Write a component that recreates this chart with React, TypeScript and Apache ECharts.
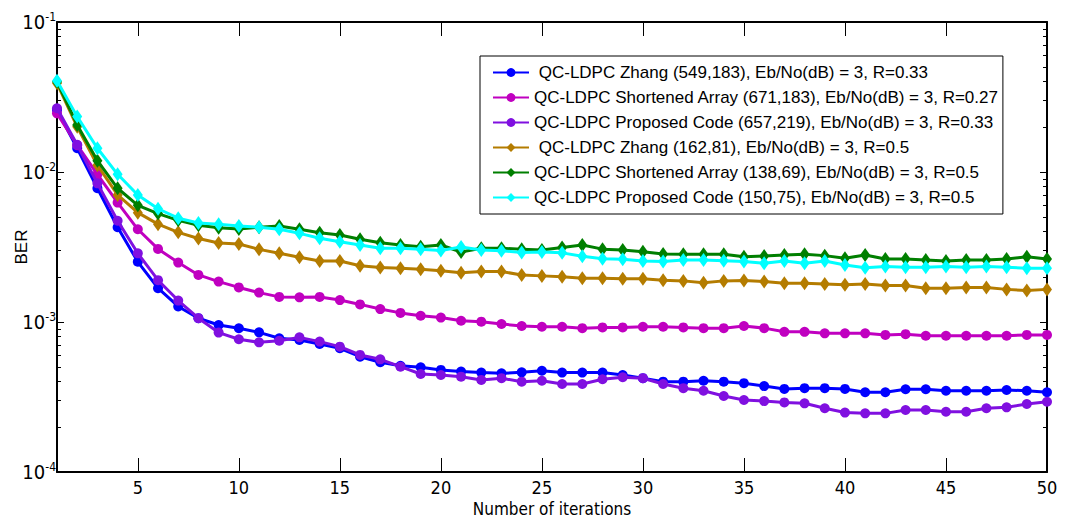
import { useEffect, useRef } from 'react';
import * as echarts from 'echarts';

const iterations = [
  1, 2, 3, 4, 5, 6, 7, 8, 9, 10, 11, 12, 13, 14, 15, 16, 17, 18, 19, 20, 21, 22, 23, 24, 25,
  26, 27, 28, 29, 30, 31, 32, 33, 34, 35, 36, 37, 38, 39, 40, 41, 42, 43, 44, 45, 46, 47, 48, 49, 50,
];

const seriesNames = [
  ' QC-LDPC Zhang (549,183), Eb/No(dB) = 3, R=0.33',
  'QC-LDPC Shortened Array (671,183), Eb/No(dB) = 3, R=0.27',
  'QC-LDPC Proposed Code (657,219), Eb/No(dB) = 3, R=0.33',
  ' QC-LDPC Zhang (162,81), Eb/No(dB) = 3, R=0.5',
  'QC-LDPC Shortened Array (138,69), Eb/No(dB) = 3, R=0.5',
  'QC-LDPC Proposed Code (150,75), Eb/No(dB) = 3, R=0.5',
];

const zhang549 = [
  0.0259, 0.0144, 0.00779, 0.00428, 0.00252, 0.00168, 0.00127, 0.00106, 0.000955, 0.000909,
  0.000853, 0.000779, 0.000759, 0.000713, 0.000668, 0.000587, 0.000539, 0.000511, 0.000499, 0.000479,
  0.000467, 0.00046, 0.000455, 0.000462, 0.000473, 0.00046, 0.00046, 0.00046, 0.000443, 0.000422,
  0.0004, 0.0004, 0.000406, 0.0004, 0.000391, 0.000374, 0.000358, 0.000362, 0.000362, 0.000358,
  0.00034, 0.00034, 0.000356, 0.000356, 0.000348, 0.000348, 0.000348, 0.000352, 0.000348, 0.00034,
];
const shortened671 = [
  0.0246, 0.0151, 0.00965, 0.00625, 0.00415, 0.00307, 0.00249, 0.00206, 0.00186, 0.0017,
  0.00157, 0.00147, 0.00146, 0.00147, 0.0014, 0.00131, 0.00122, 0.00115, 0.0011, 0.00107,
  0.00102, 0.001005, 0.00097, 0.00094, 0.00093, 0.00093, 0.00091, 0.00092, 0.00092, 0.00093,
  0.00093, 0.00092, 0.00091, 0.00091, 0.00094, 0.00091, 0.00086, 0.00086, 0.00084, 0.00084,
  0.00084, 0.00082, 0.00083, 0.00081, 0.00081, 0.00081, 0.00081, 0.00081, 0.00082, 0.00082,
];
const proposed657 = [
  0.0266, 0.0152, 0.0084, 0.00473, 0.00287, 0.0019, 0.00139, 0.00106, 0.00085, 0.000767,
  0.000732, 0.00075, 0.00079, 0.00074, 0.000685, 0.000603, 0.000564, 0.000504, 0.00045, 0.000443,
  0.000432, 0.000411, 0.000422, 0.0004, 0.000406, 0.000386, 0.000386, 0.000415, 0.000428, 0.000422,
  0.000386, 0.000362, 0.000348, 0.000321, 0.000302, 0.000297, 0.000291, 0.000287, 0.000266, 0.000249,
  0.000246, 0.000246, 0.000259, 0.000259, 0.000252, 0.000252, 0.000266, 0.00027, 0.000284, 0.000294,
];
const zhang162 = [
  0.039, 0.02, 0.0111, 0.00703, 0.00536, 0.00449, 0.00396, 0.0036, 0.00336, 0.00331,
  0.00305, 0.00287, 0.0027, 0.00255, 0.00255, 0.00237, 0.00231, 0.00228, 0.00225, 0.0022,
  0.00213, 0.00217, 0.00217, 0.00206, 0.00203, 0.002, 0.00196, 0.00196, 0.00194, 0.00194,
  0.0019, 0.00188, 0.00183, 0.00188, 0.00189, 0.00186, 0.00181, 0.00181, 0.00179, 0.00177,
  0.00179, 0.00175, 0.00175, 0.00168, 0.00168, 0.0017, 0.0017, 0.00165, 0.00162, 0.00165,
];
const shortened138 = [
  0.04, 0.0206, 0.0119, 0.00779, 0.006, 0.00528, 0.00476, 0.00441, 0.00425, 0.00417,
  0.00428, 0.00436, 0.00415, 0.00394, 0.0038, 0.00356, 0.00338, 0.00326, 0.00318, 0.00326,
  0.00293, 0.0031, 0.0031, 0.00306, 0.00302, 0.00314, 0.00326, 0.00306, 0.00302, 0.00294,
  0.00284, 0.00283, 0.00283, 0.00283, 0.00272, 0.00275, 0.0028, 0.00283, 0.00277, 0.00266,
  0.0028, 0.00263, 0.00263, 0.00259, 0.00255, 0.00259, 0.00259, 0.00263, 0.00272, 0.00263,
];
const proposed150 = [
  0.0406, 0.0234, 0.0144, 0.00965, 0.00703, 0.00569, 0.00492, 0.00457, 0.00449, 0.00436,
  0.00428, 0.00415, 0.0039, 0.00362, 0.00343, 0.00326, 0.0031, 0.0031, 0.00306, 0.003,
  0.00316, 0.00302, 0.00299, 0.00291, 0.00293, 0.00289, 0.00274, 0.00264, 0.00262, 0.00255,
  0.00253, 0.00259, 0.00259, 0.00256, 0.00253, 0.00246, 0.00255, 0.00246, 0.00255, 0.0024,
  0.0023, 0.00234, 0.00232, 0.00232, 0.00234, 0.00232, 0.00234, 0.00232, 0.00228, 0.00228,
];

const xTickValues = [5, 10, 15, 20, 25, 30, 35, 40, 45, 50];
const seriesColors = ['#0000FF', '#C000C0', '#8010E0', '#B47C00', '#007F00', '#00FFFF'];
const seriesSymbols = ['circle', 'circle', 'circle', 'diamond', 'diamond', 'diamond'];
const allSeries = [zhang549, shortened671, proposed657, zhang162, shortened138, proposed150];

const minorTickExps: number[] = [];
for (let d = -4; d <= -2; d++) {
  for (let k = 2; k <= 9; k++) minorTickExps.push(Math.log10(k * Math.pow(10, d)));
}

const FONT = '"Liberation Sans", Arial, sans-serif';
const NARROW = '"Liberation Sans Narrow", "DejaVu Sans Condensed", "Liberation Sans", sans-serif';

export default function App() {
  const ref = useRef<HTMLDivElement>(null);
  useEffect(() => {
    if (!ref.current) return;
    const chart = echarts.init(ref.current, null, { renderer: 'svg' });
    const axisLine = { show: true, lineStyle: { color: '#000', width: 2 } };
    const series = allSeries.map((vals, idx) => ({
      type: 'line',
      name: seriesNames[idx],
      data: iterations.map((it, j) => [it, vals[j]]),
      xAxisIndex: 0,
      yAxisIndex: 0,
      symbol: seriesSymbols[idx],
      symbolSize: seriesSymbols[idx] === 'circle' ? 10 : [10, 14],
      showAllSymbol: true,
      lineStyle: { color: seriesColors[idx], width: 3 },
      itemStyle: { color: seriesColors[idx] },
      emphasis: { disabled: true },
      z: 2 + idx,
    }));
    chart.setOption({
      animation: false,
      backgroundColor: '#fff',
      grid: { left: 57, right: 20, top: 22, bottom: 53, containLabel: false, outerBoundsMode: 'none' },
      legend: {
        orient: 'vertical',
        left: 480,
        top: 56,
        backgroundColor: '#fff',
        borderColor: '#000',
        borderWidth: 1,
        padding: [8, 4, 8, 12],
        itemWidth: 36,
        itemHeight: 11,
        itemGap: 8,
        textStyle: { fontFamily: FONT, fontSize: 17, color: '#000' },
        data: seriesNames,
      },
      xAxis: [
        {
          type: 'value',
          min: 1,
          max: 50,
          position: 'bottom',
          name: 'Number of iterations',
          nameLocation: 'middle',
          nameGap: 28,
          nameMoveOverlap: false,
          nameTextStyle: { fontFamily: NARROW, fontSize: 17, color: '#000' },
          axisLine,
          axisTick: { show: true, inside: true, length: 14, customValues: xTickValues, lineStyle: { color: '#000' } },
          axisLabel: {
            customValues: xTickValues,
            margin: 6,
            fontFamily: NARROW,
            fontSize: 18,
            color: '#000',
          },
          splitLine: { show: false },
        },
        {
          type: 'value',
          min: 1,
          max: 50,
          position: 'top',
          axisLine,
          axisTick: { show: true, inside: true, length: 14, customValues: xTickValues, lineStyle: { color: '#000' } },
          axisLabel: { show: false },
          splitLine: { show: false },
        },
      ],
      yAxis: [
        {
          type: 'log',
          logBase: 10,
          min: 1e-4,
          max: 1e-1,
          position: 'left',
          name: 'BER',
          nameLocation: 'middle',
          nameGap: 27,
          nameMoveOverlap: false,
          nameTextStyle: { fontFamily: FONT, fontSize: 17, color: '#000' },
          axisLine,
          axisTick: { show: true, inside: true, length: 7, lineStyle: { color: '#000' } },
          axisLabel: {
            margin: 1,
            showMinLabel: true,
            showMaxLabel: true,
            formatter: (v: number) => `{b|10}{s|${Math.round(Math.log10(v))}}`,
            rich: {
              b: { fontFamily: NARROW, fontSize: 20, color: '#000', lineHeight: 22 },
              s: { fontFamily: NARROW, fontSize: 12, color: '#000', lineHeight: 22, verticalAlign: 'top', padding: [0, 0, 8, 0] },
            },
          },
          splitLine: { show: false },
          minorTick: { show: false },
        },
        {
          type: 'value',
          min: -4,
          max: -1,
          position: 'left',
          axisLine: { show: false },
          axisTick: { show: true, inside: true, length: 4, customValues: minorTickExps, lineStyle: { color: '#000' } },
          axisLabel: { show: false },
          splitLine: { show: false },
        },
        {
          type: 'log',
          logBase: 10,
          min: 1e-4,
          max: 1e-1,
          position: 'right',
          axisLine,
          axisTick: { show: true, inside: true, length: 7, lineStyle: { color: '#000' } },
          axisLabel: { show: false },
          splitLine: { show: false },
        },
        {
          type: 'value',
          min: -4,
          max: -1,
          position: 'right',
          axisLine: { show: false },
          axisTick: { show: true, inside: true, length: 4, customValues: minorTickExps, lineStyle: { color: '#000' } },
          axisLabel: { show: false },
          splitLine: { show: false },
        },
      ],
      series,
    });
    return () => chart.dispose();
  }, []);
  return <div ref={ref} style={{ position: 'fixed', left: 0, top: 0, width: 1067, height: 525 }} />;
}
